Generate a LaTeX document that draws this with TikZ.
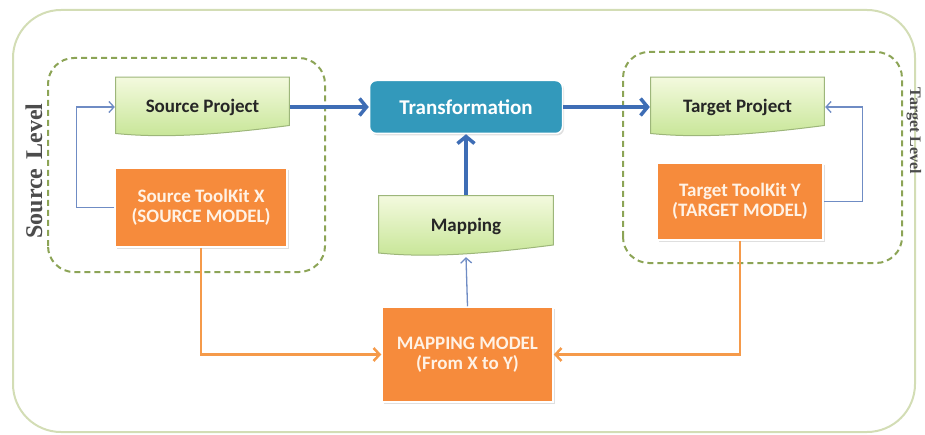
\documentclass[tikz,border=0pt]{standalone}
\usepackage{fontspec}
\setmainfont{Carlito}
\newfontfamily\levelfont{Liberation Serif}
\usepackage{tikz}
\usetikzlibrary{arrows.meta,shadows,calc}

\definecolor{outerline}{HTML}{D3DDB5}
\definecolor{dashgreen}{HTML}{8CA456}
\definecolor{docTop}{HTML}{F4FADF}
\definecolor{docBot}{HTML}{C6E595}
\definecolor{docLine}{HTML}{9DB67A}
\definecolor{transfill}{HTML}{3399BB}
\definecolor{orangebox}{HTML}{F68B3C}
\definecolor{bluearrow}{HTML}{3E6DB5}
\definecolor{thinblue}{HTML}{6F8CC4}
\definecolor{orangeline}{HTML}{F59A4A}

\begin{document}
\begin{tikzpicture}[x=1pt,y=1pt,
    docbox/.style={minimum width=175pt, minimum height=61pt, inner sep=0pt,
      font=\fontsize{19}{20}\selectfont\bfseries, text=black!85,
      path picture={
        \path[top color=docTop, bottom color=docBot, draw=docLine, line width=1pt]
          ([shift={(0.6pt,-0.6pt)}]path picture bounding box.north west)
          -- ([shift={(-0.6pt,-0.6pt)}]path picture bounding box.north east)
          -- ([shift={(-0.6pt,12pt)}]path picture bounding box.south east)
          .. controls +(-70pt,-9pt) and +(50pt,-5pt) ..
          ([shift={(0.6pt,4pt)}]path picture bounding box.south west) -- cycle;
      }},
    orangebox/.style={fill=orangebox, draw=white, line width=1.5pt, align=center,
      font=\fontsize{19}{20}\selectfont\bfseries, text=white!90!orange,
      drop shadow={opacity=0.25, shadow xshift=1.5pt, shadow yshift=-2pt}},
    bigarrow/.style={draw=bluearrow, line width=3.5pt, -{Straight Barb[length=7pt,width=17pt]}},
    thinarrow/.style={draw=thinblue, line width=1.3pt, -{Straight Barb[length=5pt,width=11pt]}},
    orangearrow/.style={draw=orangeline, line width=2.5pt, -{Straight Barb[length=6pt,width=13pt]}},
    levelbox/.style={draw=dashgreen, line width=2pt, dash pattern=on 6pt off 4pt, rounded corners=26pt}]
  \useasboundingbox (0,0) rectangle (925,434);

  % frames
  \draw[outerline, line width=2pt, rounded corners=48pt] (13,2) rectangle (915,424);
  \draw[levelbox] (48,162) rectangle (325,376);
  \draw[levelbox] (623,171) rectangle (902,382);

  \node[rotate=90, font=\levelfont\fontsize{24}{24}\selectfont\bfseries, text=black!70]
    (sl) at (34,263) {Source\hspace{9pt}Level};
  \node[rotate=-90, font=\levelfont\fontsize{16}{16}\selectfont\bfseries, text=black!70,
    inner sep=0pt] (tl) at (914,303) {Target Level};

  % boxes
  \node[docbox] (sp) at (202.5,327) {Source Project};
  \node[docbox] (tp) at (737.5,327) {Target Project};
  \node[docbox, minimum width=176pt, minimum height=62pt] (mp) at (466,208) {Mapping};
  \node[fill=transfill, draw=white, line width=1.5pt, rounded corners=7pt,
    minimum width=193pt, minimum height=53pt, font=\fontsize{21}{22}\selectfont\bfseries,
    text=white, drop shadow={opacity=0.25, shadow xshift=1.5pt, shadow yshift=-2pt}]
    (tr) at (466,327) {Transformation};
  \node[orangebox, minimum width=172pt, minimum height=79pt] (sk) at (201,226.5)
    {Source ToolKit X\\(SOURCE MODEL)};
  \node[orangebox, minimum width=166pt, minimum height=77pt] (tk) at (740,232.5)
    {Target ToolKit Y\\(TARGET MODEL)};
  \node[orangebox, minimum width=171pt, minimum height=95pt] (mm) at (467.5,79.5)
    {MAPPING MODEL\\(From X to Y)};

  % connectors
  \draw[bigarrow] (sp.east) -- (tr.west);
  \draw[bigarrow] (tr.east) -- (tp.west);
  \draw[bigarrow] (mp.north) -- (tr.south);
  \draw[thinarrow] (mm.north) -- (mp.south);
  \draw[thinarrow] (sk.west) -- ++(-38,0) |- (sp.west);
  \draw[thinarrow] (tk.east) -- ++(39,0) |- (tp.east);
  \draw[orangearrow] (sk.south) |- (mm.west);
  \draw[orangearrow] (tk.south) |- (mm.east);
\end{tikzpicture}
\end{document}
